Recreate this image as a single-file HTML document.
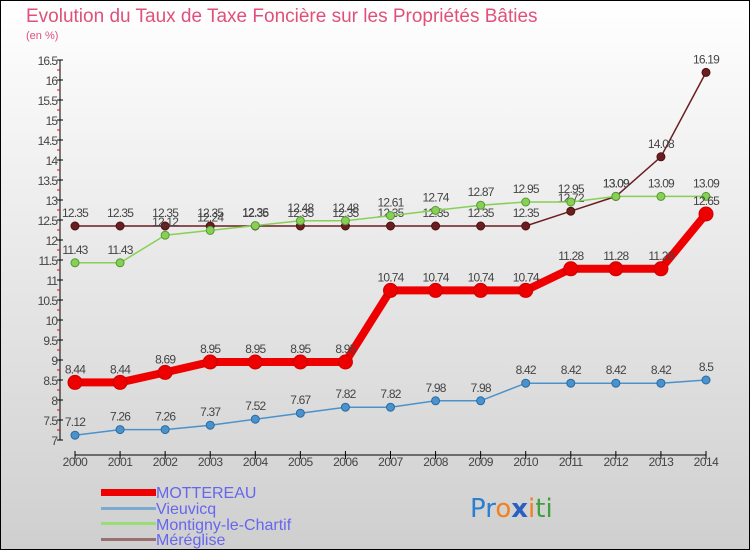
<!DOCTYPE html>
<html><head><meta charset="utf-8"><style>
body{margin:0;width:750px;height:550px;overflow:hidden;font-family:"Liberation Sans",sans-serif}
</style></head><body>
<svg width="750" height="550" xmlns="http://www.w3.org/2000/svg">
<defs><linearGradient id="bg" x1="0" y1="0" x2="0" y2="1"><stop offset="0" stop-color="#ffffff"/><stop offset="1" stop-color="#cfcfcf"/></linearGradient></defs>
<rect x="0.5" y="0.5" width="749" height="549" fill="url(#bg)" stroke="#000"/>
<text x="26" y="22" font-size="19" fill="#e0507a">Evolution du Taux de Taxe Foncière sur les Propriétés Bâties</text>
<text x="26" y="39" font-size="11" fill="#e0507a">(en %)</text>
<g id="axes"></g>
<g id="series"></g>
<g font-size="16" fill="#6666ee">
<rect x="101" y="489" width="55" height="7" fill="#ee0000"/>
<text x="156" y="498">MOTTEREAU</text>
<rect x="101" y="507" width="55" height="3" fill="#7aaad0"/>
<text x="156" y="514">Vieuvicq</text>
<rect x="101" y="522" width="55" height="3" fill="#99dd77"/>
<text x="156" y="530">Montigny-le-Chartif</text>
<rect x="101" y="538" width="55" height="3" fill="#997070"/>
<text x="156" y="545">Méréglise</text>
</g>
<text x="470" y="517" font-size="26" font-family="'DejaVu Sans',sans-serif"><tspan fill="#2a7fd0">Pr</tspan><tspan fill="#f08020">o</tspan><tspan fill="#2a60c0" font-weight="bold">x</tspan><tspan fill="#f08020">i</tspan><tspan fill="#40a040">ti</tspan></text>
</svg>
<script>
const years=["2000","2001","2002","2003","2004","2005","2006","2007","2008","2009","2010","2011","2012","2013","2014"];
const yTicks=[7,7.5,8,8.5,9,9.5,10,10.5,11,11.5,12,12.5,13,13.5,14,14.5,15,15.5,16,16.5];
const mottereau=[8.44,8.44,8.69,8.95,8.95,8.95,8.95,10.74,10.74,10.74,10.74,11.28,11.28,11.28,12.65];
const vieuvicq=[7.12,7.26,7.26,7.37,7.52,7.67,7.82,7.82,7.98,7.98,8.42,8.42,8.42,8.42,8.5];
const montigny=[11.43,11.43,12.12,12.24,12.36,12.48,12.48,12.61,12.74,12.87,12.95,12.95,13.09,13.09,13.09];
const mereglise=[12.35,12.35,12.35,12.35,12.35,12.35,12.35,12.35,12.35,12.35,12.35,12.72,13.09,14.08,16.19];
const NS="http://www.w3.org/2000/svg";
const X=i=>75+i*(706-75)/(years.length-1);
const Y=v=>440-(v-7)*40;
function mk(t,a,p){const e=document.createElementNS(NS,t);for(const k in a)e.setAttribute(k,a[k]);p.appendChild(e);return e;}
const ax=document.getElementById('axes');
let l=mk('line',{x1:60,y1:Y(16.5),x2:60,y2:Y(7),stroke:'#000'},ax);


yTicks.forEach((v,k)=>{
 mk('line',{x1:57,x2:63,y1:Y(v),y2:Y(v),stroke:'#000'},ax);
 if(k<yTicks.length-1) mk('line',{x1:57,x2:60,y1:Y(v)-10,y2:Y(v)-10,stroke:'#e00'},ax);
 const t=mk('text',{x:57,y:Y(v)+5,'text-anchor':'end','font-size':12,fill:'#444','letter-spacing':'-1'},ax);
 t.textContent=String(v);
 
 
});
l=mk('line',{x1:X(0),y1:455,x2:X(14),y2:455,stroke:'#000'},ax);


years.forEach((y,i)=>{
 mk('line',{x1:X(i),x2:X(i),y1:451,y2:459,stroke:'#000'},ax);
 const t=mk('text',{x:X(i),y:466,'text-anchor':'middle','font-size':12,fill:'#444','letter-spacing':'-0.5'},ax);
 t.textContent=y;
 
 
});
const sg=document.getElementById('series');
function series(name,vals,color,w,r,dark){
 const g=mk('g',{},sg);
 
 
 mk('polyline',{points:vals.map((v,i)=>X(i)+','+Y(v)).join(' '),fill:'none',stroke:color,'stroke-width':w},g);
 vals.forEach((v,i)=>{
  const c=mk('circle',{cx:X(i),cy:Y(v),r:r,fill:color,stroke:dark,'stroke-width':1},g);
  
  
  const t=mk('text',{x:X(i),y:Y(v)-9,'text-anchor':'middle','font-size':12,fill:'#444','letter-spacing':'-0.8'},g);
  t.textContent=String(v);
  
  
 });
}
series('mereglise',mereglise,'#6b1e22',1.5,4,'#4a1010');
series('montigny',montigny,'#88d055',1.5,4,'#559933');
series('vieuvicq',vieuvicq,'#4b92cc',1.5,4,'#2a6aa0');
series('mottereau',mottereau,'#ee0000',8,7,'#cc0000');
</script>
</body></html>
